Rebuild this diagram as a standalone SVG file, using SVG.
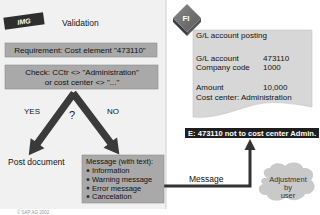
<svg xmlns="http://www.w3.org/2000/svg" width="320" height="215" viewBox="0 0 320 215">
<defs>
<style>
text{font-family:"Liberation Sans",Arial,sans-serif;fill:#111;}
.t8{font-size:8px;}
.t7{font-size:7.5px;}
.box{fill:#a9a9a9;stroke:#8e8e8e;stroke-width:0.6;}
.arr{fill:#3a3a3a;}
</style>
<linearGradient id="dg" x1="0" y1="0" x2="1" y2="1">
<stop offset="0" stop-color="#8a8a8a"/>
<stop offset="1" stop-color="#5a5a5a"/>
</linearGradient>
<path id="bigArrow" d="M0,-3.6 L62,-3.6 L62,-8.5 L77,0 L62,8.5 L62,3.6 L0,3.6 Z"/>
</defs>
<rect x="0" y="0" width="320" height="215" fill="#ffffff"/>
<g id="left-panel">
<rect x="0" y="0" width="166" height="209" fill="#f1f1f1"/>
<line x1="166" y1="0" x2="166" y2="209" stroke="#cfcfcf" stroke-width="1"/>
</g>
<g id="img-tag">
<g transform="rotate(-8 24 21)">
<rect x="4" y="15" width="40" height="12" fill="#2e2e2e"/>
<text x="24" y="24" text-anchor="middle" style="font-size:7px;font-weight:bold;font-style:italic;fill:#fff">IMG</text>
</g>
</g>
<text x="62" y="26" style="font-size:8.5px">Validation</text>
<g id="requirement">
<rect class="box" x="5" y="43" width="152" height="14"/>
<text class="t8" x="80" y="53" text-anchor="middle">Requirement: Cost element "473110"</text>
</g>
<g id="check">
<rect class="box" x="5" y="65" width="153" height="24"/>
<text class="t8" x="82" y="75" text-anchor="middle">Check: CCtr &lt;&gt; "Administration"</text>
<text class="t8" x="82" y="85" text-anchor="middle">or cost center &lt;&gt; "..."</text>
</g>
<g id="connectors">
<use href="#bigArrow" class="arr" transform="translate(74 93) rotate(126)"/>
<use href="#bigArrow" class="arr" transform="translate(73 93) rotate(53)"/>
<polyline points="164,186 250,186 250,149" fill="none" stroke="#333" stroke-width="3"/>
<polygon points="250,139 244.5,150 255.5,150" fill="#333"/>
</g>
<text class="t8" x="24" y="114">YES</text>
<text class="t8" x="107" y="114">NO</text>
<text x="69" y="119" style="font-size:11px;fill:#222">?</text>
<g id="post-document">
<text x="8" y="165" style="font-size:8.5px">Post document</text>
</g>
<g id="message-box">
<rect class="box" x="82" y="155" width="82" height="48"/>
<text class="t7" x="86" y="164">Message (with text):</text>
<g class="t7">
<circle cx="88" cy="170.5" r="1.5" fill="#333"/><text x="92" y="173">Information</text>
<circle cx="88" cy="179.5" r="1.5" fill="#333"/><text x="92" y="182">Warning message</text>
<circle cx="88" cy="188" r="1.5" fill="#333"/><text x="92" y="190.5">Error message</text>
<circle cx="88" cy="196.5" r="1.5" fill="#333"/><text x="92" y="199">Cancelation</text>
</g>
</g>
<g id="gl-document">
<path d="M193,30 L312,30 L312,107 C290,103 270,100 250,106 C230,112 212,119 193,117 Z" fill="#d7d7d7" stroke="#c2c2c2" stroke-width="0.6"/>
<text class="t8" x="196" y="38">G/L account posting</text>
<text class="t8" x="196" y="61">G/L account</text>
<text class="t8" x="263" y="61">473110</text>
<text class="t8" x="196" y="70">Company code</text>
<text class="t8" x="263" y="70">1000</text>
<text class="t8" x="196" y="90">Amount</text>
<text class="t8" x="263" y="90">10,000</text>
<text class="t8" x="196" y="100">Cost center: Administration</text>
</g>
<g id="fi-icon">
<polygon points="173,18 187,32 187,36 173,22" fill="#3d3d3d"/>
<polygon points="187,32 201,18 201,22 187,36" fill="#555"/>
<polygon points="173,18 187,4 201,18 187,32" fill="url(#dg)"/>
<text x="186" y="21" text-anchor="middle" style="font-size:8px;font-weight:bold;fill:#fff">FI</text>
</g>
<g id="error-bar">
<rect x="185" y="128" width="134" height="10" fill="#1e1e1e"/>
<text x="252" y="136" text-anchor="middle" textLength="128" lengthAdjust="spacingAndGlyphs" style="font-size:7px;font-weight:bold;fill:#fff">E: 473110 not to cost center Admin.</text>
</g>
<text x="189" y="182" style="font-size:8.5px">Message</text>
<g id="adjustment-cloud">
<path d="M268,178 C262,176 262,168 270,168 C272,162 282,162 285,166 C290,160 302,162 303,168 C312,167 316,175 311,180 C318,185 314,195 305,194 C302,201 290,202 286,197 C280,203 268,201 267,195 C258,196 256,186 263,184 C259,181 262,177 268,178 Z" fill="#c9c9c9"/>
<text class="t7" x="288" y="182" text-anchor="middle" style="fill:#333">Adjustment</text>
<text class="t7" x="288" y="190" text-anchor="middle" style="fill:#333">by</text>
<text class="t7" x="288" y="198" text-anchor="middle" style="fill:#333">user</text>
</g>
<text x="17" y="214" style="font-size:4.5px;fill:#999">© SAP AG 2002</text>
</svg>
